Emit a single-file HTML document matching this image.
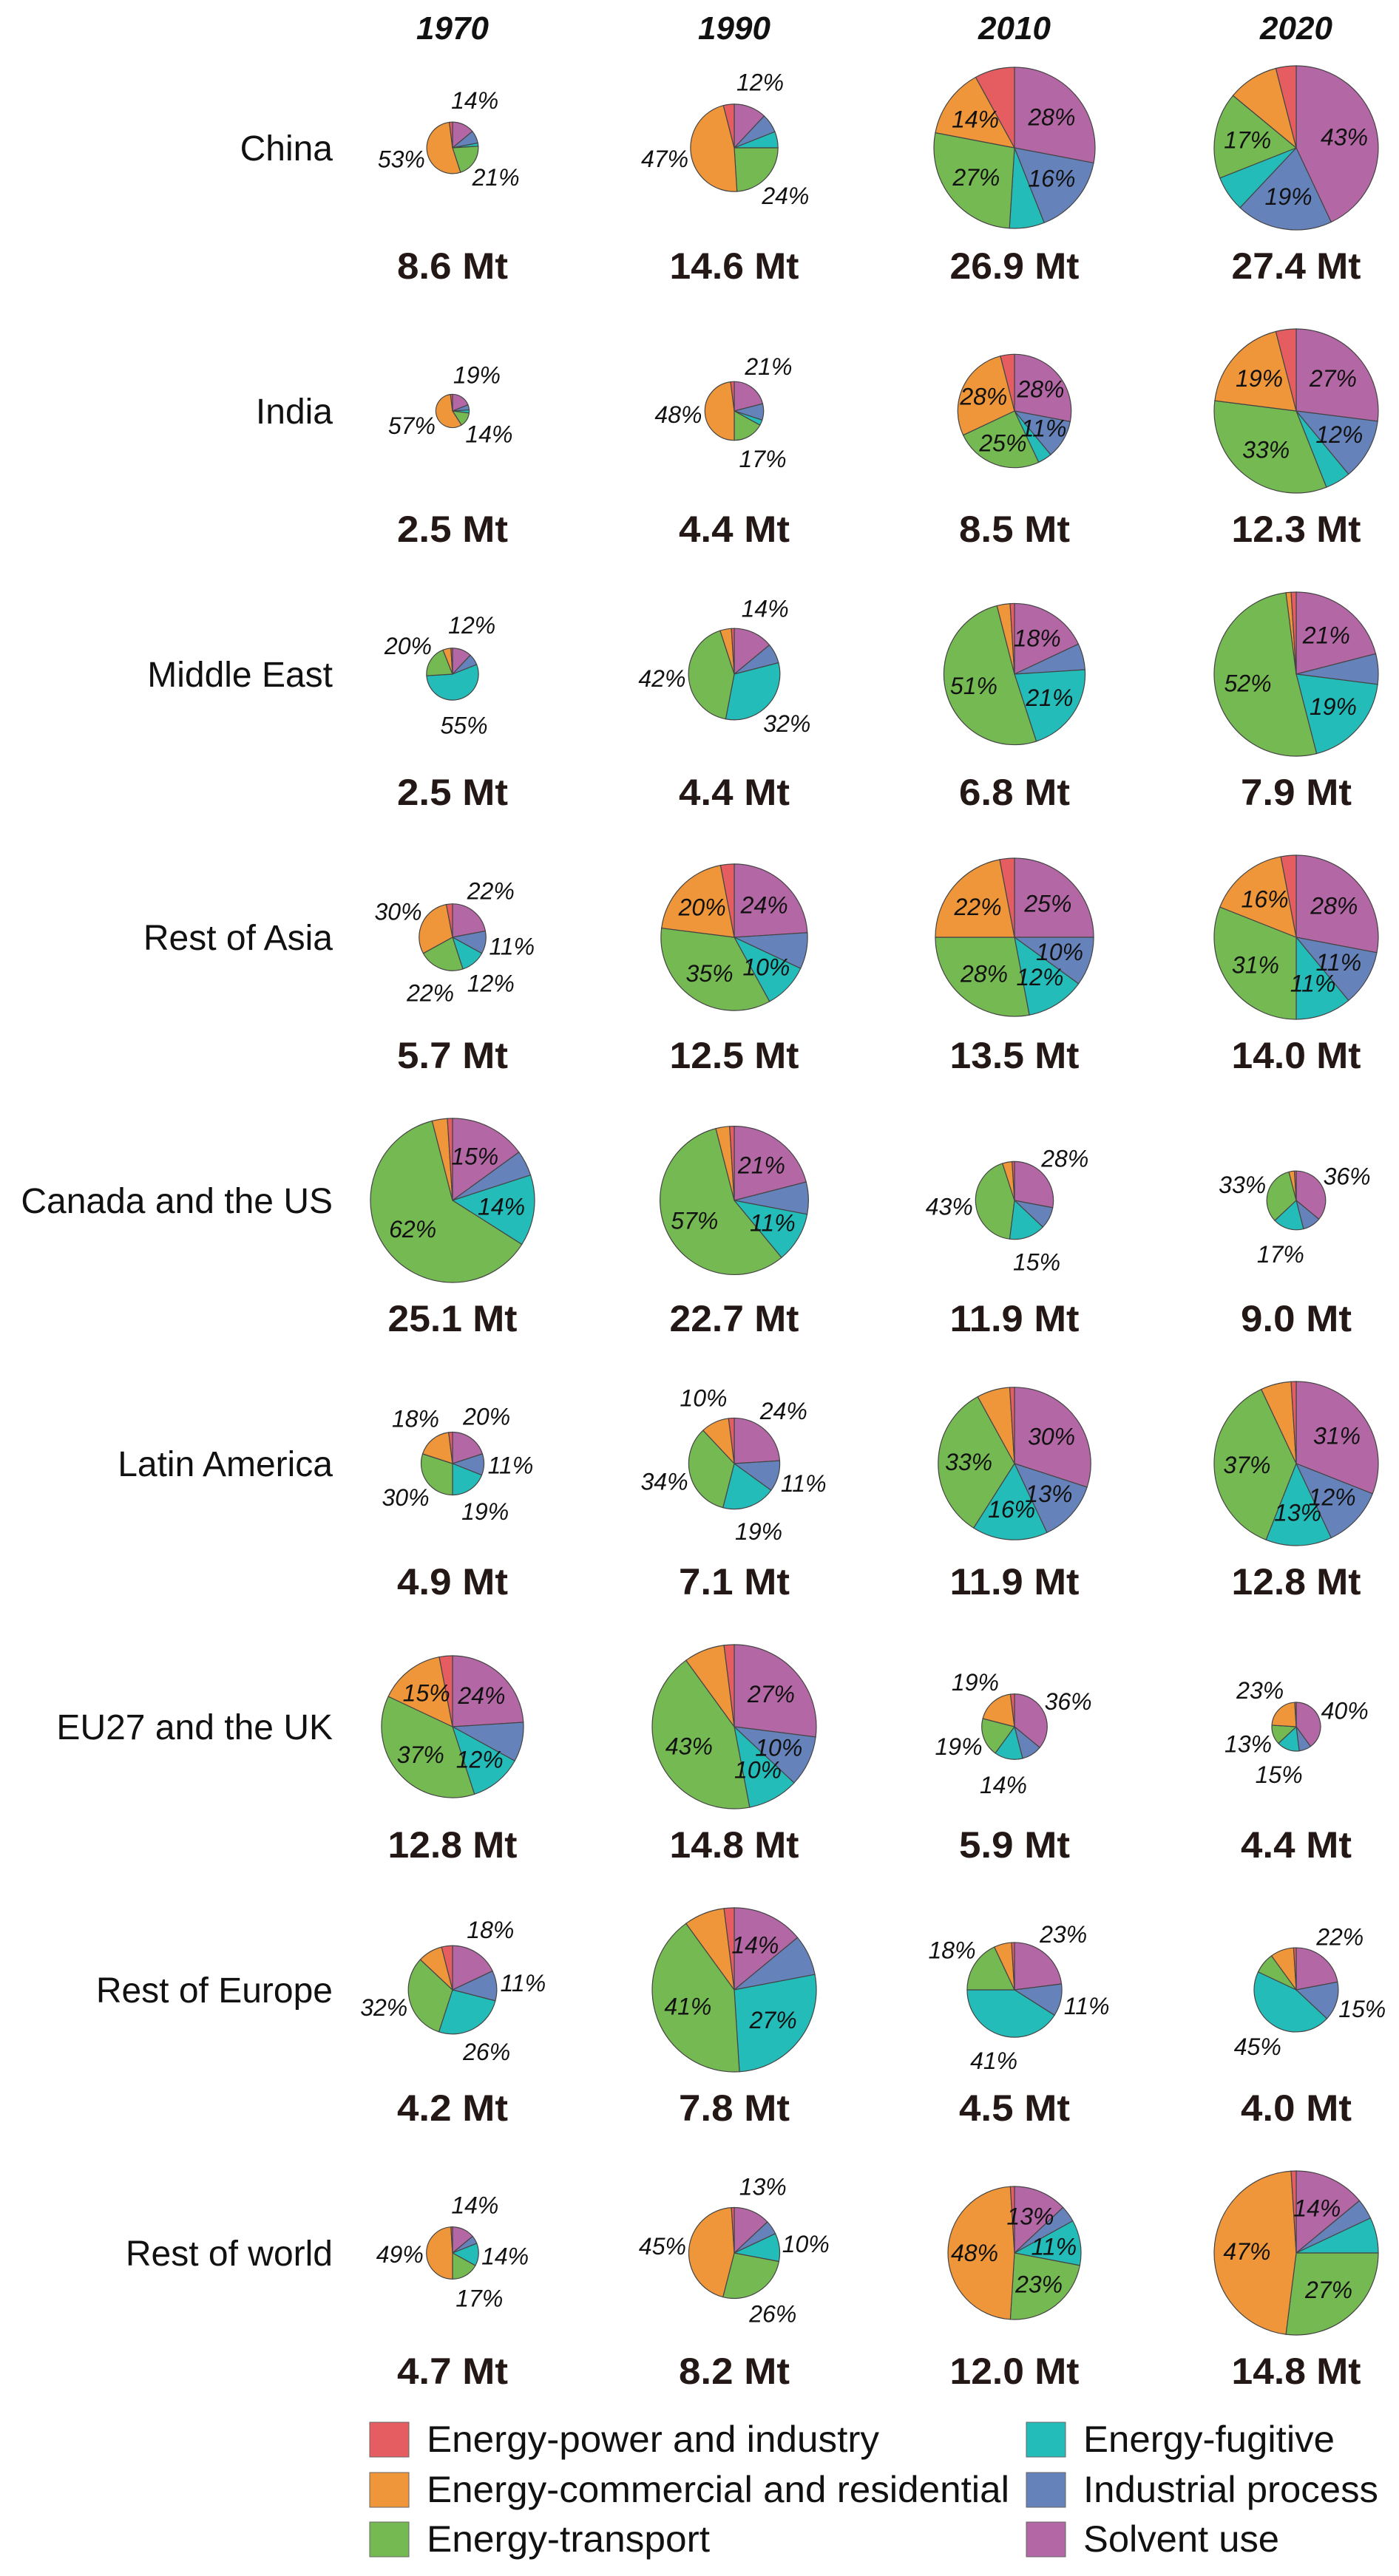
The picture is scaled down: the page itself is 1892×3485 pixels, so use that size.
<!DOCTYPE html>
<html><head><meta charset="utf-8"><style>
html,body{margin:0;padding:0;background:#fff;}
svg{display:block;}
</style></head><body>
<svg id="chart" width="1892" height="3485" viewBox="0 0 1892 3485" xmlns="http://www.w3.org/2000/svg" font-family="'Liberation Sans', sans-serif"></svg>
<script>
const years = ["1970","1990","2010","2020"];
const regions = ["China","India","Middle East","Rest of Asia","Canada and the US","Latin America","EU27 and the UK","Rest of Europe","Rest of world"];
const categories = ["Energy-power and industry","Energy-commercial and residential","Energy-transport","Energy-fugitive","Industrial process","Solvent use"];
const colors = ["#e55c61","#ef963a","#75b952","#24bcb9","#6682bb","#b467a5"];
const totals = [
  [8.6,14.6,26.9,27.4],
  [2.5,4.4,8.5,12.3],
  [2.5,4.4,6.8,7.9],
  [5.7,12.5,13.5,14.0],
  [25.1,22.7,11.9,9.0],
  [4.9,7.1,11.9,12.8],
  [12.8,14.8,5.9,4.4],
  [4.2,7.8,4.5,4.0],
  [4.7,8.2,12.0,14.8]
];
const shares = [
  [[2,53,21,2,8,14],[4,47,24,6,7,12],[8,14,27,7,16,28],[4,10,17,7,19,43]],
  [[2,57,14,3,5,19],[2,48,17,3,9,21],[4,28,25,4,11,28],[4,19,33,5,12,27]],
  [[1,5,20,55,7,12],[1,4,42,32,7,14],[1,3,51,21,6,18],[1,1,52,19,6,21]],
  [[3,30,22,12,11,22],[3,20,35,10,8,24],[3,22,28,12,10,25],[3,16,31,11,11,28]],
  [[1,3,62,14,5,15],[1,3,57,11,7,21],[1,4,43,15,9,28],[1,3,33,17,10,36]],
  [[2,18,30,19,11,20],[2,10,34,19,11,24],[1,7,33,16,13,30],[1,6,37,13,12,31]],
  [[3,15,37,12,9,24],[2,8,43,10,10,27],[2,19,19,14,10,36],[1,23,13,15,8,40]],
  [[4,9,32,26,11,18],[2,8,41,27,8,14],[1,6,18,41,11,23],[1,9,8,45,15,22]],
  [[1,49,17,14,5,14],[1,45,26,10,5,13],[1,48,23,11,4,13],[1,47,27,7,4,14]]
];
const labeled = [
  [[1,2,5],[1,2,5],[1,2,4,5],[2,4,5]],
  [[1,2,5],[1,2,5],[1,2,4,5],[1,2,4,5]],
  [[2,3,5],[2,3,5],[2,3,5],[2,3,5]],
  [[1,2,3,4,5],[1,2,3,5],[1,2,3,4,5],[1,2,3,4,5]],
  [[2,3,5],[2,3,5],[2,3,5],[2,3,5]],
  [[1,2,3,4,5],[1,2,3,4,5],[2,3,4,5],[2,3,4,5]],
  [[1,2,3,5],[2,3,4,5],[1,2,3,5],[1,2,3,5]],
  [[2,3,4,5],[2,3,5],[2,3,4,5],[3,4,5]],
  [[1,2,3,5],[1,2,3,5],[1,2,3,5],[1,2,5]]
];

const NS = "http://www.w3.org/2000/svg";
const svg = document.getElementById("chart");
const colX = [612, 993, 1372, 1753];
const rowY = i => 200 + 356 * i;
const RMAX = 111;
function mk(tag, attrs, parent) {
  const e = document.createElementNS(NS, tag);
  for (const k in attrs) e.setAttribute(k, attrs[k]);
  (parent || svg).appendChild(e);
  return e;
}
years.forEach((y, j) => {
  const t = mk("text", {x: colX[j], y: 53, "text-anchor": "middle", "font-size": 44, "font-weight": "bold", "font-style": "italic", fill: "#111"});
  
  
  t.textContent = y;
});
const order = [5,4,3,2,1,0];
regions.forEach((reg, i) => {
  const cy = rowY(i);
  const rl = mk("text", {x: 450, y: cy + 17, "text-anchor": "end", "font-size": 48, fill: "#111"});
  
  
  rl.textContent = reg;
  const rowMax = Math.max(...totals[i]);
  years.forEach((yr, j) => {
    const cx = colX[j];
    const r = RMAX * totals[i][j] / rowMax;
    const vals = shares[i][j];
    const sum = vals.reduce((a, b) => a + b, 0);
    const g = mk("g", {});
    
    
    let a0 = -Math.PI / 2;
    const mids = {};
    order.forEach(k => {
      const frac = vals[k] / sum;
      if (frac <= 0) return;
      const a1 = a0 + frac * 2 * Math.PI;
      const x0 = cx + r * Math.cos(a0), y0 = cy + r * Math.sin(a0);
      const x1 = cx + r * Math.cos(a1), y1 = cy + r * Math.sin(a1);
      const large = (a1 - a0) > Math.PI ? 1 : 0;
      const p = mk("path", {d: `M${cx},${cy} L${x0},${y0} A${r},${r} 0 ${large} 1 ${x1},${y1} Z`, fill: colors[k], stroke: "#444", "stroke-width": 1.2}, g);
      
      
      mids[k] = (a0 + a1) / 2;
      a0 = a1;
    });
    labeled[i][j].forEach(k => {
      const m = mids[k];
      const inside = r >= 75;
      const d = inside ? r * 0.6 : r + 36;
      const lx = cx + d * Math.cos(m), ly = cy + d * Math.sin(m);
      const t = mk("text", {x: lx, y: ly + 11, "text-anchor": "middle", "font-size": 32, "font-style": "italic", fill: "#111"}, g);
      
      
      t.textContent = vals[k] + "%";
    });
    const s = totals[i][j].toFixed(1) + " Mt";
    const mt = mk("text", {x: cx, y: cy + 177, "text-anchor": "middle", "font-size": 50, "font-weight": "bold", fill: "#231815", textLength: 25 * s.length, lengthAdjust: "spacingAndGlyphs"});
    
    
    mt.textContent = s;
  });
});
const legX = [500, 1388];
const legY = [3277, 3345, 3412];
const legLen = [612, 788, 383, 340, 399, 265];
categories.forEach((c, k) => {
  const col = Math.floor(k / 3), row = k % 3;
  const g = mk("g", {});
  
  
  const sw = mk("rect", {x: legX[col], y: legY[row], width: 53, height: 47, fill: colors[k], stroke: "#666", "stroke-width": 1}, g);
  
  
  const t = mk("text", {x: legX[col] + 77, y: legY[row] + 40, "font-size": 50, fill: "#111", textLength: legLen[k], lengthAdjust: "spacingAndGlyphs"}, g);
  
  
  t.textContent = c;
});
</script>
</body></html>
